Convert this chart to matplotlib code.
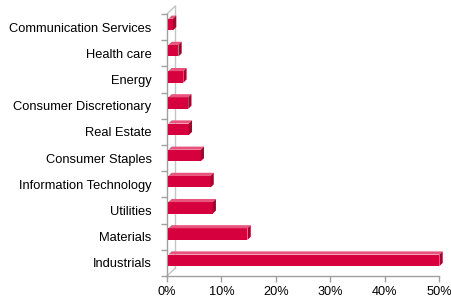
import matplotlib
matplotlib.use("Agg")
import matplotlib.pyplot as plt
from matplotlib.patches import Polygon

categories = ["Industrials", "Materials", "Utilities", "Information Technology",
              "Consumer Staples", "Real Estate", "Consumer Discretionary",
              "Energy", "Health care", "Communication Services"]
values = [50.1, 14.8, 8.4, 8.0, 6.2, 4.0, 3.9, 3.0, 2.1, 1.1]
xticks = [0, 10, 20, 30, 40, 50]
xticklabels = ["0%", "10%", "20%", "30%", "40%", "50%"]

plt.rcParams['font.family'] = ['Liberation Sans', 'DejaVu Sans']

fig = plt.figure(figsize=(4.52, 3.0), dpi=100)
ax = fig.add_axes([0.3695, 0.08, 0.6015, 0.8733])

front = "#d5003d"
top = "#e8547c"
side = "#9a0a2e"

dx, dy = 0.6, 0.12          # bar depth
fb, fh = -0.12, 0.44        # front face bottom offset and height
x0 = 0.25

for i, v in enumerate(values):
    yb = i + fb
    yt = yb + fh
    ax.add_patch(Polygon([(x0, yb), (v, yb), (v, yt), (x0, yt)], closed=True,
                         facecolor=front, edgecolor='none', zorder=3, clip_on=False))
    ax.add_patch(Polygon([(x0, yt), (v, yt), (v + dx, yt + dy), (x0 + dx, yt + dy)],
                         closed=True, facecolor=top, edgecolor='none', zorder=3,
                         clip_on=False))
    ax.add_patch(Polygon([(v, yb), (v + dx, yb + dy), (v + dx, yt + dy), (v, yt)],
                         closed=True, facecolor=side, edgecolor='none', zorder=3,
                         clip_on=False))

ax.set_xlim(0, 50)
ax.set_ylim(-0.5, len(categories) - 0.5)

# wall lines
dxw, dyw = 1.5, 0.3
wall_c = "#c4c4c4"
ax.plot([dxw, dxw], [-0.5 + dyw, len(categories) - 0.5 + dyw], color=wall_c, lw=1.0,
        clip_on=False, zorder=1)
ax.plot([0, dxw], [len(categories) - 0.5, len(categories) - 0.5 + dyw], color=wall_c,
        lw=1.0, clip_on=False, zorder=1)
ax.plot([0, dxw], [-0.5, -0.5 + dyw], color=wall_c, lw=1.0, clip_on=False, zorder=1)

for s in ["top", "right"]:
    ax.spines[s].set_visible(False)
for s in ["left", "bottom"]:
    ax.spines[s].set_color("#a0a0a0")
    ax.spines[s].set_linewidth(1.0)

ax.set_yticks([i - 0.5 for i in range(len(categories) + 1)])
ax.set_yticklabels([])
ax.set_yticks(range(len(categories)), minor=True)
ax.set_yticklabels(categories, minor=True, fontsize=9.3)
ax.tick_params(axis='y', which='minor', length=0, pad=11)
ax.tick_params(axis='y', which='major', length=4, color="#a0a0a0", width=1)

ax.set_xticks(xticks)
ax.set_xticklabels(xticklabels, fontsize=9.2)
ax.tick_params(axis='x', length=4, color="#a0a0a0", width=1, pad=3)

fig.savefig("out.png", dpi=100)
